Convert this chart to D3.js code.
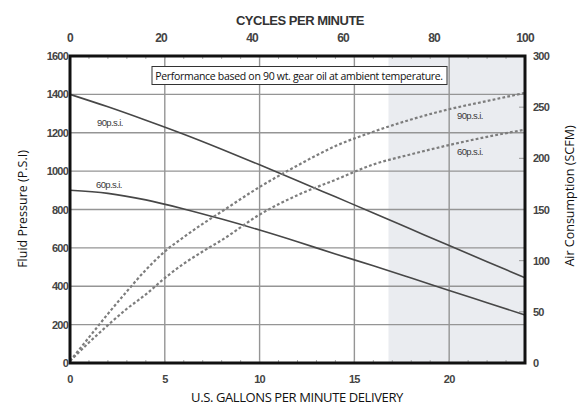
<!DOCTYPE html>
<html><head><meta charset="utf-8">
<script src="https://cdn.jsdelivr.net/npm/d3@7"></script>
<style>
html,body{margin:0;padding:0;background:#fff;}
svg{display:block;}
</style></head>
<body><svg id="c" width="581" height="406"></svg>
<script>
// ---- data ----
const gallons = [0, 2, 4, 6, 8, 10, 12, 14, 16, 18, 20, 22, 24];
const fluid90 = [1400, 1335, 1265, 1192, 1114, 1033, 950, 866, 782, 697, 612, 528, 444];
const fluid60 = [900, 884, 850, 803, 750, 693, 632, 568, 507, 443, 378, 314, 250];
const airGallons = [0, 1, 2, 3, 4, 5, 6, 7, 8, 10, 12, 14, 16, 18, 20, 22, 24];
const air90 = [2, 25, 48, 70, 91, 109, 123, 136, 148, 172, 193, 212, 226, 238, 248, 256, 264];
const air60 = [2, 20, 37, 53, 67, 83, 97, 109, 120, 145, 164, 179, 194, 204, 213, 221, 228];
const bottomTicks = [0, 5, 10, 15, 20];
const topTicks = [0, 20, 40, 60, 80, 100];
const leftTicks = [0, 200, 400, 600, 800, 1000, 1200, 1400, 1600];
const rightTicks = [0, 50, 100, 150, 200, 250, 300];
const shadedRange = [16.8, 24];
const note = "Performance based on 90 wt. gear oil at ambient temperature.";

// ---- layout ----
const svg = d3.select("#c");
const L = 70, R = 525, T = 56, B = 363;
const x = d3.scaleLinear().domain([0, 24]).range([L, R]);
const xTop = d3.scaleLinear().domain([0, 100]).range([L, R]);
const y = d3.scaleLinear().domain([0, 1600]).range([B, T]);
const yR = d3.scaleLinear().domain([0, 300]).range([B, T]);

// shaded region
svg.append("rect").attr("x", x(shadedRange[0])).attr("y", T)
  .attr("width", x(shadedRange[1]) - x(shadedRange[0])).attr("height", B - T)
  .attr("fill", "#eaecf0");

// grid
const grid = svg.append("g").attr("stroke", "#959595").attr("stroke-width", 1.4);
bottomTicks.filter(d => d > 0).forEach(d => {
  grid.append("line").attr("x1", x(d)).attr("x2", x(d)).attr("y1", T).attr("y2", B);
});
leftTicks.filter(d => d > 0 && d < 1600).forEach(d => {
  grid.append("line").attr("x1", L).attr("x2", R).attr("y1", y(d)).attr("y2", y(d));
});

// minor ticks along top and bottom
const minor = svg.append("g").attr("stroke", "#aaa").attr("stroke-width", 1);
d3.range(1, 24).forEach(g => {
  minor.append("line").attr("x1", x(g)).attr("x2", x(g)).attr("y1", B).attr("y2", B - 3);
  minor.append("line").attr("x1", x(g)).attr("x2", x(g)).attr("y1", T).attr("y2", T + 3);
});
// right inner ticks
rightTicks.filter(d => d > 0 && d < 300).forEach(d => {
  minor.append("line").attr("x1", R - 6).attr("x2", R).attr("y1", yR(d)).attr("y2", yR(d)).attr("stroke", "#999");
});

// lines
const smooth = d3.line().curve(d3.curveMonotoneX);
const p90 = gallons.map((g, i) => [x(g), y(fluid90[i])]);
const p60 = gallons.map((g, i) => [x(g), y(fluid60[i])]);
const a90 = airGallons.map((g, i) => [x(g), yR(air90[i])]);
const a60 = airGallons.map((g, i) => [x(g), yR(air60[i])]);
[p90, p60].forEach(p => svg.append("path").attr("d", smooth(p)).attr("fill", "none")
  .attr("stroke", "#474747").attr("stroke-width", 1.6));
[a90, a60].forEach(p => svg.append("path").attr("d", smooth(p)).attr("fill", "none")
  .attr("stroke", "#7d7d7d").attr("stroke-width", 2.2).attr("stroke-dasharray", "2.8,2.2"));

// frame
svg.append("rect").attr("x", L).attr("y", T).attr("width", R - L).attr("height", B - T)
  .attr("fill", "none").attr("stroke", "#111").attr("stroke-width", 3);

// axes labels
const tickFont = "'Liberation Sans', Arial, sans-serif";
const tl = svg.append("g").attr("font-family", tickFont).attr("font-weight", "bold")
  .attr("font-size", 11).attr("fill", "#444").attr("letter-spacing", "-0.8");
leftTicks.forEach(d => tl.append("text").attr("x", L - 2).attr("y", y(d) + 4).attr("text-anchor", "end").text(d));
rightTicks.forEach(d => tl.append("text").attr("x", R + 8).attr("y", yR(d) + 4).attr("text-anchor", "start").text(d));
bottomTicks.forEach(d => tl.append("text").attr("x", x(d)).attr("y", B + 20).attr("text-anchor", "middle").text(d));
topTicks.forEach(d => tl.append("text").attr("x", xTop(d)).attr("y", 42).attr("text-anchor", "middle")
  .attr("font-size", 12).text(d));

// titles
const tf = "'Open Sans', 'Liberation Sans', sans-serif";
svg.append("text").attr("x", 300).attr("y", 25).attr("text-anchor", "middle")
  .attr("font-family", tickFont).attr("font-weight", "bold").attr("font-size", 13)
  .attr("fill", "#333").attr("letter-spacing", "-0.5").text("CYCLES PER MINUTE");
svg.append("text").attr("x", 297).attr("y", 402).attr("text-anchor", "middle")
  .attr("font-family", tf).attr("font-size", 13).attr("fill", "#111")
  .attr("letter-spacing", "-0.4").text("U.S. GALLONS PER MINUTE DELIVERY");
svg.append("text").attr("transform", "translate(27,209) rotate(-90)").attr("text-anchor", "middle")
  .attr("font-family", tf).attr("font-size", 12.5).attr("fill", "#111").text("Fluid Pressure (P.S.I)");
svg.append("text").attr("transform", "translate(574,196) rotate(-90)").attr("text-anchor", "middle")
  .attr("font-family", tf).attr("font-size", 12.5).attr("fill", "#111").text("Air Consumption (SCFM)");

// note box
const nb = svg.append("g");
nb.append("rect").attr("x", 152).attr("y", 66.5).attr("width", 295).attr("height", 18)
  .attr("fill", "#fff").attr("stroke", "#333").attr("stroke-width", 1);
nb.append("text").attr("x", 299).attr("y", 79.5).attr("text-anchor", "middle")
  .attr("font-family", tf).attr("font-size", 10.5).attr("fill", "#111")
  .attr("letter-spacing", "-0.3").text(note);

// curve labels
const lf = svg.append("g").attr("font-family", tickFont).attr("font-size", 9.5)
  .attr("fill", "#3a3a3a").attr("letter-spacing", "-0.6");
lf.append("text").attr("x", 97).attr("y", 126).text("90p.s.i.");
lf.append("text").attr("x", 96).attr("y", 188).text("60p.s.i.");
lf.append("text").attr("x", 457).attr("y", 119).text("90p.s.i.");
lf.append("text").attr("x", 457).attr("y", 155).text("60p.s.i.");
</script></body></html>
